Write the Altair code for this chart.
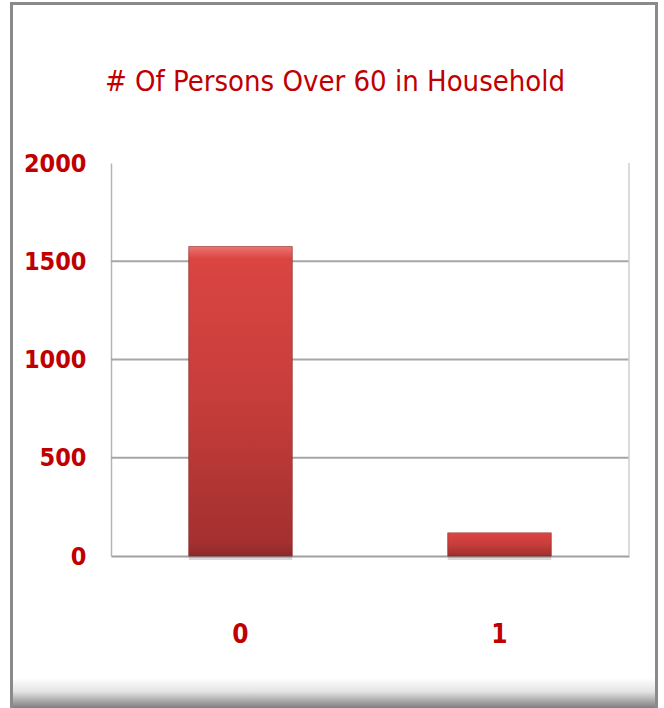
import altair as alt
import pandas as pd

# ---- data ----
categories = ["0", "1"]
counts = [1575, 118]
grid_values = [500, 1000, 1500]
y_ticks = [0, 500, 1000, 1500, 2000]
title_text = "# Of Persons Over 60 in Household"

RED = "#C00000"
FONT = "'Liberation Sans Narrow', 'DejaVu Sans Condensed', 'Arial Narrow', sans-serif"

W, H = 518, 393

df = pd.DataFrame({"persons": categories, "count": counts})
grid_df = pd.DataFrame({"v": grid_values})
one = alt.Data(values=[{"a": 1}])

x_scale = alt.Scale(paddingInner=0.6, paddingOuter=0.3)
y_scale = alt.Scale(domain=[0, 2000], nice=False)

x_axis = alt.Axis(
    title=None, labelAngle=0, ticks=False, domain=True,
    domainColor="#A0A0A0", domainWidth=2,
    labelFont=FONT, labelFontSize=26, labelColor=RED,
    labelFontWeight="bold", labelBaseline="alphabetic", labelPadding=86,
    grid=False,
)
y_axis = alt.Axis(
    title=None, values=y_ticks, format="d", ticks=False, domain=True,
    domainColor="#B4B4B4", domainWidth=1.5,
    labelFont=FONT, labelFontSize=25, labelColor=RED,
    labelFontWeight="bold", labelPadding=25, grid=False,
)

x_enc = alt.X("persons:N", sort=categories, scale=x_scale, axis=x_axis, title=None)
y_enc = alt.Y("count:Q", scale=y_scale, axis=y_axis, title=None)

# decorative frame around the whole picture
frame = alt.Chart(one).mark_rect(
    fillOpacity=0, stroke="#8A8A8A", strokeWidth=3
).encode(
    x=alt.value(-99.5), x2=alt.value(545.5),
    y=alt.value(-159.5), y2=alt.value(560),
)
bottom_shadow = alt.Chart(one).mark_rect(
    color=alt.Gradient(
        gradient="linear", x1=0, x2=0, y1=0, y2=1,
        stops=[alt.GradientStop(offset=0, color="#FFFFFF"),
               alt.GradientStop(offset=0.45, color="#E4E4E4"),
               alt.GradientStop(offset=1, color="#7E7E7E")],
    )
).encode(
    x=alt.value(-98), x2=alt.value(544),
    y=alt.value(515), y2=alt.value(545),
)

title = alt.Chart(one).mark_text(
    text=title_text, font=FONT, fontSize=29, fontWeight="normal",
    color=RED, align="center", baseline="alphabetic",
).encode(x=alt.value(224), y=alt.value(-72))

grid = alt.Chart(grid_df).mark_rule(color="#A6A6A6", strokeWidth=2).encode(
    y=alt.Y("v:Q", scale=y_scale, axis=y_axis, title=None),
    x=alt.value(0), x2=alt.value(W),
)
right_line = alt.Chart(one).mark_rule(color="#CFCFCF", strokeWidth=1.5).encode(
    x=alt.value(W), y=alt.value(0), y2=alt.value(H),
)

bar_shadow = alt.Chart(df).mark_bar(
    color="#000000", opacity=0.15, yOffset=4, y2Offset=4,
).encode(x=x_enc, y=y_enc)

bars = alt.Chart(df).mark_bar(
    color=alt.Gradient(
        gradient="linear", x1=0, x2=0, y1=0, y2=1,
        stops=[alt.GradientStop(offset=0, color="#EC7370"),
               alt.GradientStop(offset=0.04, color="#DA4541"),
               alt.GradientStop(offset=0.5, color="#C63D3B"),
               alt.GradientStop(offset=0.96, color="#A3302F"),
               alt.GradientStop(offset=1, color="#8A2A2A")],
    ),
    stroke="#8E2A2A", strokeWidth=0.6,
).encode(x=x_enc, y=y_enc)

chart = alt.layer(frame, bottom_shadow, title, grid, right_line, bar_shadow, bars).properties(
    width=W, height=H,
    autosize=alt.AutoSizeParams(type="none"),
    padding={"left": 111, "top": 163, "right": 35, "bottom": 152},
    background="white",
).configure_view(strokeWidth=0, stroke=None)

chart.save("out.html", embed_options={"renderer": "svg", "actions": False})
